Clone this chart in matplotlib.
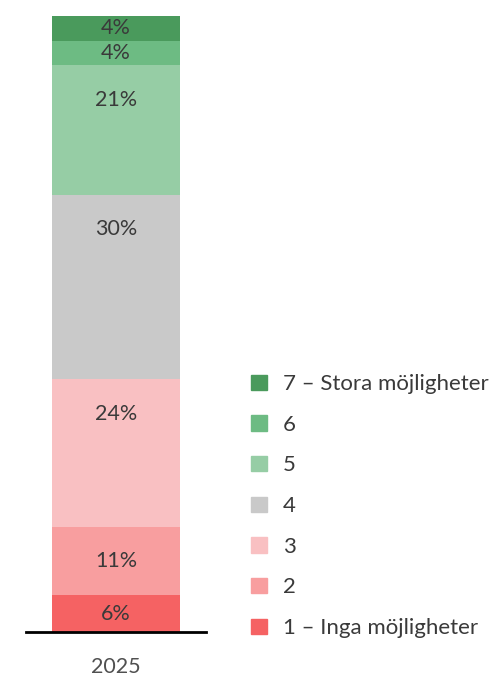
import matplotlib
matplotlib.use("Agg")
import matplotlib.pyplot as plt
from matplotlib.patches import Patch

plt.rcParams['font.family'] = ['Lato', 'DejaVu Sans']

# data (bottom to top)
years = ['2025']
labels = ['1 – Inga möjligheter', '2', '3', '4', '5', '6', '7 – Stora möjligheter']
values = [6, 11, 24, 30, 21, 4, 4]
colors = ['#f56263', '#f89e9f', '#f9c0c2', '#c9c9c9', '#96cda5', '#6dbb83', '#4a9a5c']

text_color = '#3a3a3a'

fig = plt.figure(figsize=(4.97, 6.78), dpi=100)
ax = fig.add_axes([26 / 497, 46 / 678, 180 / 497, 616 / 678])

bottom = 0
for val, col, lab in zip(values, colors, labels):
    ax.bar(0, val, width=0.711, bottom=bottom, color=col, label=lab)
    # labels sit near the top of tall segments, centred in short ones
    y = max(bottom + val / 2, bottom + val - 5.6)
    ax.text(0, y, f'{val}%', ha='center', va='center',
            fontsize=15.5, color=text_color)
    bottom += val

ax.set_xlim(-0.5, 0.5)
ax.set_ylim(0, 100)
ax.set_xticks([0])
ax.set_xticklabels(years, fontsize=15.5, color='#505050')
ax.tick_params(axis='x', length=0, pad=18)
ax.set_yticks([])
for s in ['top', 'left', 'right']:
    ax.spines[s].set_visible(False)
ax.spines['bottom'].set_linewidth(2)
ax.spines['bottom'].set_color('black')

handles = [Patch(color=c, label=l) for c, l in zip(colors, labels)][::-1]
fig.legend(handles=handles, loc='upper left', bbox_to_anchor=(240 / 497, 1 - 363 / 678),
           frameon=False, fontsize=16, labelcolor=text_color,
           handlelength=0.7, handleheight=0.7, handletextpad=0.72,
           labelspacing=0.93, borderpad=0)

fig.savefig('out.png', dpi=100)
